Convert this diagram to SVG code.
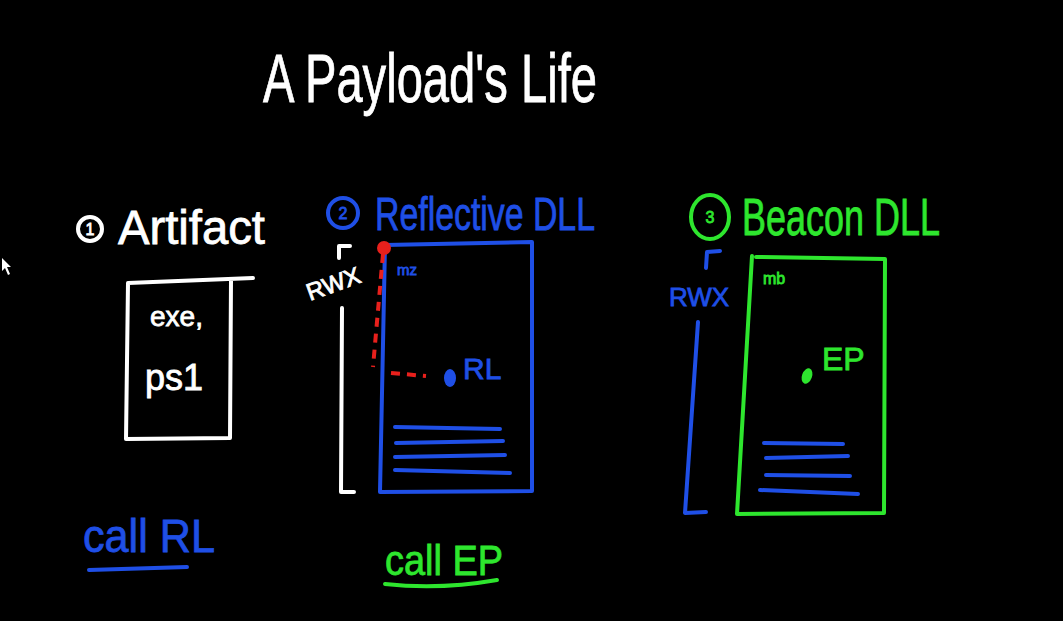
<svg xmlns="http://www.w3.org/2000/svg" width="1063" height="621" viewBox="0 0 1063 621">
<style>
text{font-family:"Liberation Sans","DejaVu Sans",sans-serif;}
.w{fill:#ffffff;stroke:#ffffff;stroke-width:0.8}
.b{fill:#1f4fe6;stroke:#1f4fe6;stroke-width:0.8}
.g{fill:#2ee62e;stroke:#2ee62e;stroke-width:0.8}
.sw{fill:none;stroke:#ffffff;stroke-width:4;stroke-linecap:round;stroke-linejoin:round}
.sb{fill:none;stroke:#1f4fe6;stroke-width:4;stroke-linecap:round;stroke-linejoin:round}
.sg{fill:none;stroke:#2ee62e;stroke-width:4;stroke-linecap:round;stroke-linejoin:round}
.sr{fill:none;stroke:#e8201c;stroke-width:4;stroke-dasharray:9 7}
</style>
<rect width="1063" height="621" fill="#000"/>
<polygon points="2,258 2,271 5,268 8,275 10,274 7,267 11,267" fill="#fff"/>
<g id="title"><text class="w" x="263" y="102" font-size="68" textLength="334" lengthAdjust="spacingAndGlyphs">A Payload's Life</text></g>

<g id="artifact">
<circle class="sw" cx="90" cy="229" r="12" stroke-width="3"/>
<text class="w" x="90" y="235" font-size="16" text-anchor="middle">1</text>
<text class="w" x="118" y="244" font-size="48" textLength="147" lengthAdjust="spacingAndGlyphs">Artifact</text>
<path class="sw" d="M128,283 L126,439 L230,438 L231,280 M128,283 L253,278"/>
<text class="w" x="150" y="326" font-size="28">exe,</text>
<text class="w" x="145" y="390" font-size="36">ps1</text>
</g>

<g id="reflective">
<circle class="sb" cx="343" cy="213" r="15" stroke-width="3.5"/>
<text class="b" x="343" y="219" font-size="16" text-anchor="middle">2</text>
<text class="b" x="375" y="230" font-size="46" textLength="220" lengthAdjust="spacingAndGlyphs">Reflective DLL</text>
<path class="sb" d="M385,245 L532,242 L532,491 L380,492 Z"/>
<text class="b" x="397" y="275" font-size="15">mz</text>
<path class="sr" d="M383,254 L373,367"/>
<path class="sr" d="M391,373 L426,376"/>
<circle cx="384" cy="248" r="7" fill="#e8201c"/>
<ellipse cx="450" cy="378" rx="6" ry="9" fill="#1f4fe6"/>
<text class="b" x="463" y="379" font-size="30">RL</text>
<path class="sb" d="M395,427 L500,429 M396,443 L503,441 M395,457 L505,455 M395,470 L510,473"/>
<path class="sw" d="M339,258 L339,246 L350,246" stroke-width="3"/>
<text class="w" x="0" y="0" font-size="24" transform="translate(310,301) rotate(-20)">RWX</text>
<path class="sw" d="M342,308 L341,492 L354,492"/>
</g>

<g id="beacon">
<ellipse class="sg" cx="710" cy="217" rx="19" ry="22" stroke-width="3.5"/>
<text class="g" x="710" y="223" font-size="16" text-anchor="middle">3</text>
<text class="g" x="742" y="235" font-size="52" textLength="198" lengthAdjust="spacingAndGlyphs">Beacon DLL</text>
<path class="sg" d="M756,257 L885,259 L884,513 L737,514 L752,256"/>
<text class="g" x="763" y="284" font-size="16">mb</text>
<ellipse cx="807" cy="376" rx="5" ry="8" fill="#2ee62e" transform="rotate(20 807 376)"/>
<text class="g" x="822" y="370" font-size="32">EP</text>
<path class="sb" d="M764,443 L843,444 M766,458 L848,456 M766,475 L850,476 M760,490 L858,494"/>
<path class="sb" d="M706,268 L707,252 L720,251" stroke-width="3"/>
<text class="b" x="669" y="306" font-size="26">RWX</text>
<path class="sb" d="M698,322 L685,513 L706,512"/>
</g>

<g id="calls">
<text class="b" x="83" y="552" font-size="46" textLength="132" lengthAdjust="spacingAndGlyphs">call RL</text>
<path class="sb" d="M89,570 L187,567"/>
<text class="g" x="385" y="575" font-size="42" textLength="118" lengthAdjust="spacingAndGlyphs">call EP</text>
<path class="sg" d="M385,584 Q440,590 497,580"/>
</g>
</svg>
